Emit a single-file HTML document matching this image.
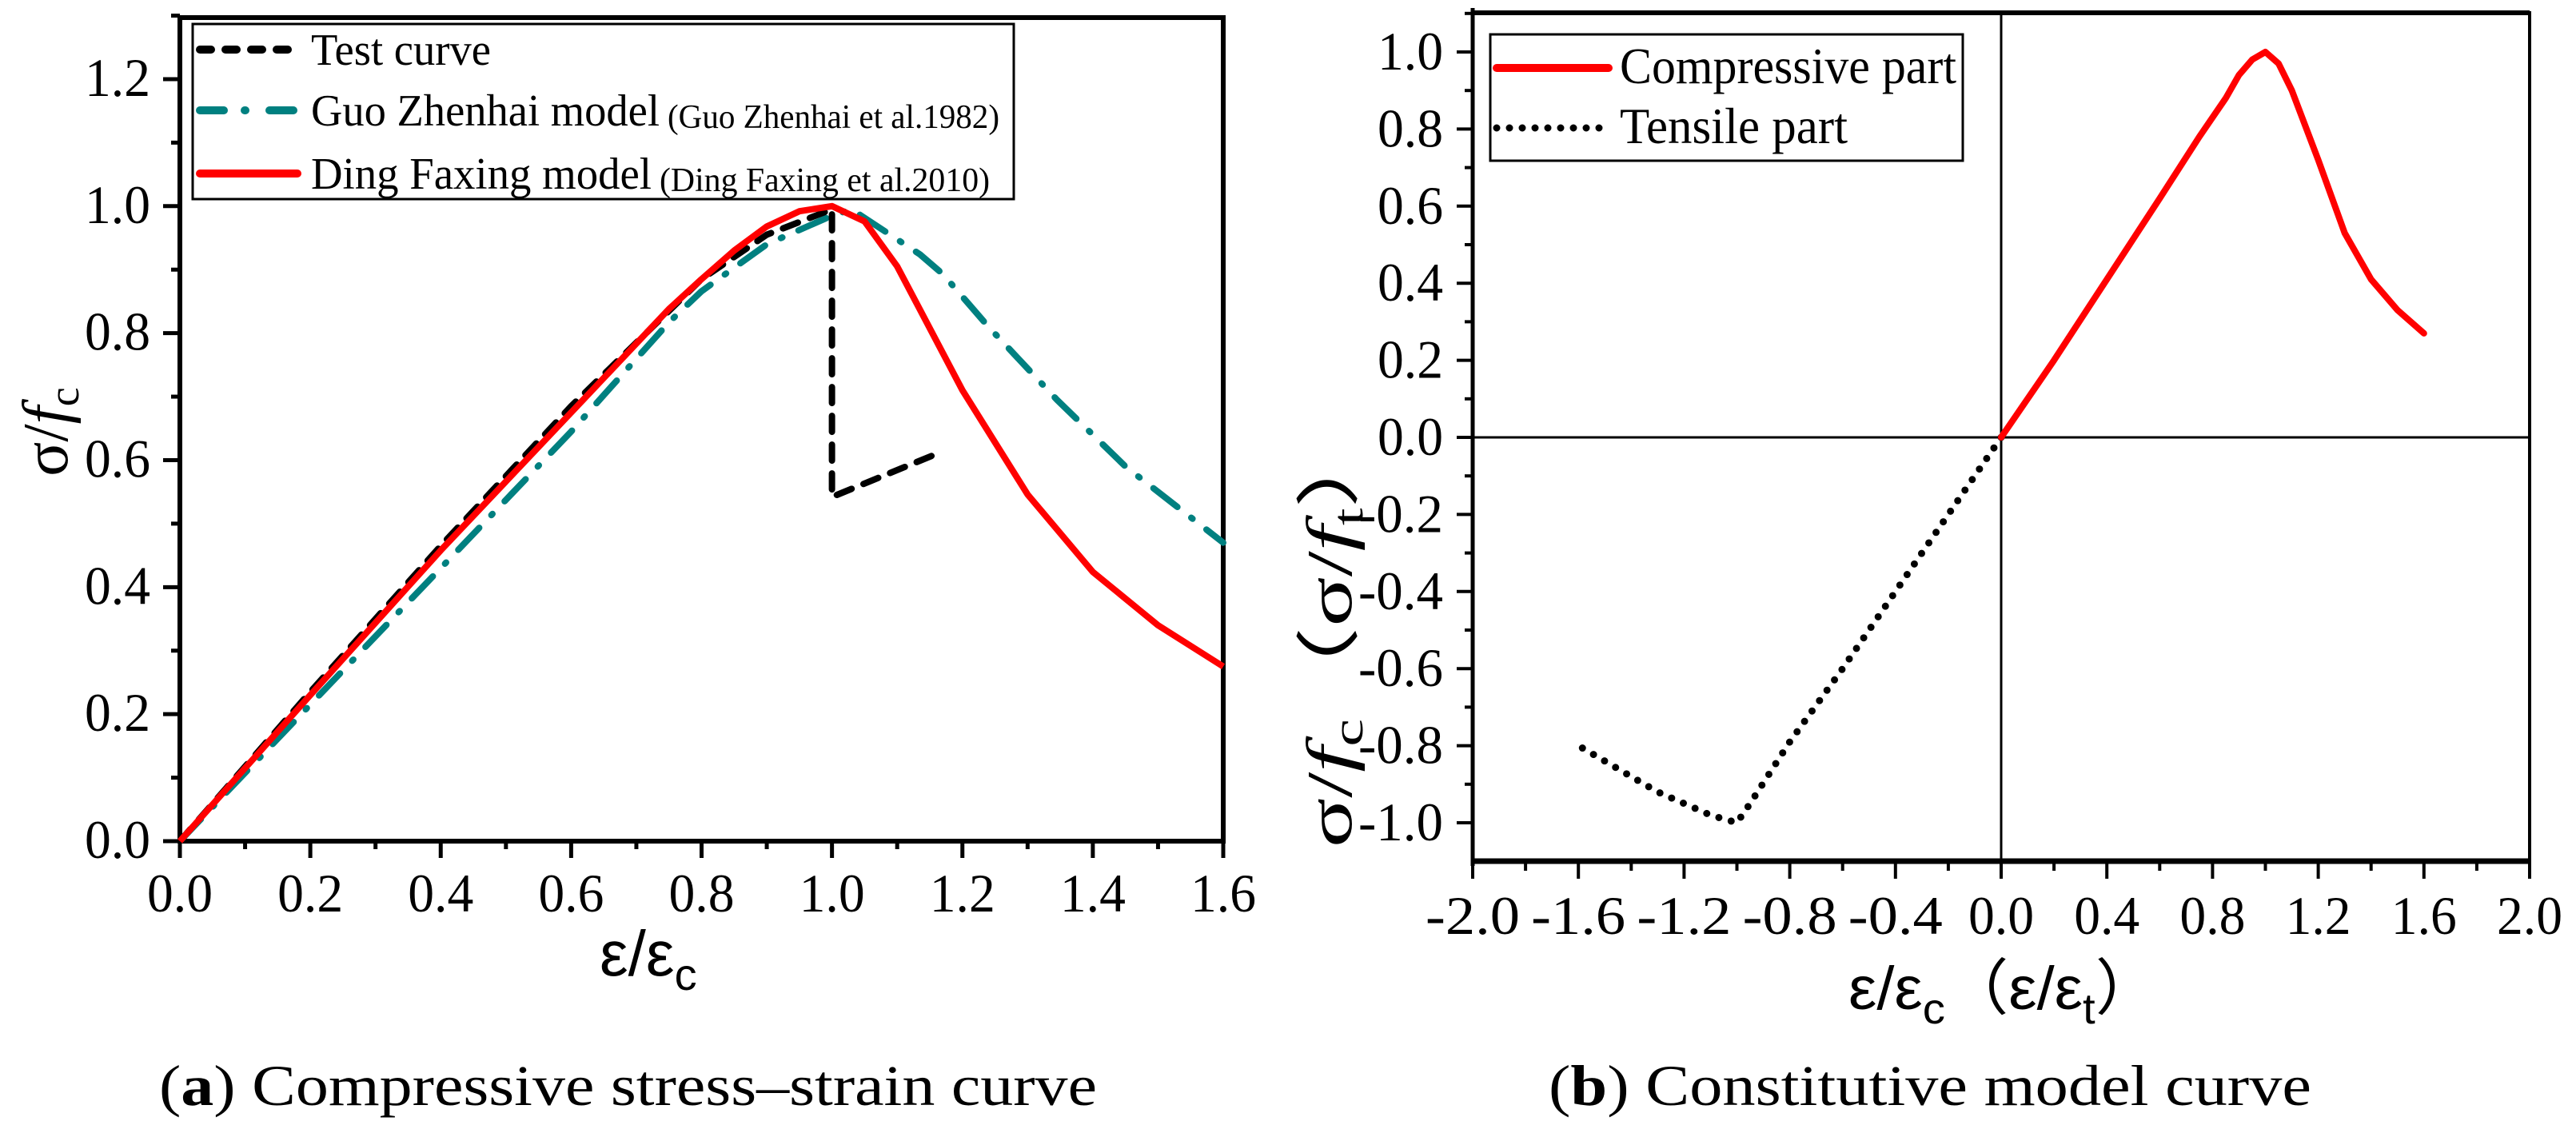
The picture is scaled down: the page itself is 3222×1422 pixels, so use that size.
<!DOCTYPE html>
<html><head><meta charset="utf-8">
<style>html,body{margin:0;padding:0;background:#fff;}svg{display:block;}
text{font-family:"Liberation Serif","Times New Roman",serif;fill:#000;}</style></head>
<body>
<svg id="fig" width="3222" height="1422" viewBox="0 0 3222 1422" xmlns="http://www.w3.org/2000/svg">
<rect width="3222" height="1422" fill="#fff"/>
<g id="pa"></g>
<g id="pb"></g>
<text x="199" y="1382" font-size="72" textLength="1173" lengthAdjust="spacingAndGlyphs">(<tspan font-weight="bold">a</tspan>) Compressive stress–strain curve</text>
<text x="1937" y="1382" font-size="72" textLength="954" lengthAdjust="spacingAndGlyphs">(<tspan font-weight="bold">b</tspan>) Constitutive model curve</text>
</svg>
<script>
// ---- chart (a) data ----
const aXTicks = [0,0.2,0.4,0.6,0.8,1.0,1.2,1.4,1.6];
const aYTicks = [0,0.2,0.4,0.6,0.8,1.0,1.2];
const testX = [0,0.2,0.4,0.6,0.8,0.9,1.0,1.0,1.17];
const testY = [0,0.235,0.465,0.685,0.885,0.955,0.995,0.542,0.614];
const guoX = [0,0.2,0.4,0.6,0.75,0.8,0.9,1.0,1.03,1.135,1.17,1.24,1.345,1.45,1.575,1.6];
const guoY = [0,0.215,0.43,0.645,0.817,0.866,0.94,0.985,0.995,0.924,0.893,0.81,0.695,0.59,0.49,0.47];
const dingX = [0,0.2,0.4,0.6,0.75,0.8,0.85,0.9,0.95,1.0,1.05,1.1,1.2,1.3,1.4,1.5,1.6];
const dingY = [0,0.23,0.458,0.675,0.838,0.885,0.93,0.968,0.992,1.0,0.976,0.905,0.71,0.546,0.424,0.34,0.275];
// ---- chart (b) data ----
const bXTicks = [-2.0,-1.6,-1.2,-0.8,-0.4,0.0,0.4,0.8,1.2,1.6,2.0];
const bYTicks = [-1.0,-0.8,-0.6,-0.4,-0.2,0.0,0.2,0.4,0.6,0.8,1.0];
const compX = [0,0.2,0.4,0.6,0.75,0.8,0.85,0.9,0.95,1.0,1.05,1.1,1.2,1.3,1.4,1.5,1.6];
const compY = [0,0.2,0.41,0.62,0.78,0.83,0.88,0.94,0.98,1.0,0.97,0.9,0.72,0.53,0.41,0.33,0.27];
const tensX = [0,-0.2,-0.4,-0.6,-0.8,-0.95,-1.0,-1.1,-1.2,-1.3,-1.4,-1.5,-1.6];
const tensY = [0,-0.2,-0.4,-0.6,-0.79,-0.95,-1.0,-0.98,-0.95,-0.92,-0.88,-0.84,-0.8];

const NS="http://www.w3.org/2000/svg";
function mk(parent,tag,attrs){const e=document.createElementNS(NS,tag);for(const k in attrs)e.setAttribute(k,attrs[k]);parent.appendChild(e);return e;}
function fmt(v){return (v<0?"-":"")+Math.abs(v).toFixed(1);}
function tw(s){return s.length>3?106:82;}

// chart a
const pa=document.getElementById('pa');
const ax=v=>225+v*(1530-225)/1.6, ay=v=>1052-v*794.2;
function line(g,xs,ys,sx,sy,attrs,name){
  const d=xs.map((x,i)=>(i?'L':'M')+sx(x).toFixed(1)+' '+sy(ys[i]).toFixed(1)).join(' ');
  const p=mk(g,'path',Object.assign({d:d,fill:'none','stroke-linejoin':'round'},attrs));
  
  
  return p;
}
let fr=mk(pa,'path',{d:'M225 22 L225 1052 L1530 1052 L1530 22 Z',fill:'none',stroke:'#000','stroke-width':6});


aXTicks.forEach((v,i)=>{
  const x=ax(v);
  const t=mk(pa,'line',{x1:x,y1:1052,x2:x,y2:1073,stroke:'#000','stroke-width':5});
  
  
  if(i<aXTicks.length-1){const xm=ax(v+0.1);const m=mk(pa,'line',{x1:xm,y1:1052,x2:xm,y2:1062,stroke:'#000','stroke-width':5});
    
    }
  const s=fmt(v);
  const l=mk(pa,'text',{x:x-tw(s)/2,y:1140,'font-size':68,textLength:tw(s),lengthAdjust:'spacingAndGlyphs'});l.textContent=s;
  
  
});
aYTicks.forEach((v,i)=>{
  const y=ay(v);
  const t=mk(pa,'line',{x1:204,y1:y,x2:225,y2:y,stroke:'#000','stroke-width':5});
  
  
  const ym=ay(v+0.1);const m=mk(pa,'line',{x1:214,y1:ym,x2:225,y2:ym,stroke:'#000','stroke-width':5});
  
  
  const s=fmt(v);
  const l=mk(pa,'text',{x:188-tw(s),y:y+21,'font-size':68,textLength:tw(s),lengthAdjust:'spacingAndGlyphs'});l.textContent=s;
  
  
});
line(pa,guoX,guoY,ax,ay,{stroke:'#008080','stroke-width':8,'stroke-dasharray':'38 22 2 22','stroke-linecap':'round'},'guo-zhenhai-series');
line(pa,testX,testY,ax,ay,{stroke:'#000','stroke-width':8,'stroke-dasharray':'20 16','stroke-linecap':'round'},'test-curve-series');
line(pa,dingX,dingY,ax,ay,{stroke:'#ff0000','stroke-width':8},'ding-faxing-series');
const lga=mk(pa,'g',{});


mk(lga,'rect',{x:241,y:30,width:1027,height:219,fill:'#fff',stroke:'#000','stroke-width':3});
const legA=[{y:62,st:{stroke:'#000','stroke-dasharray':'14 18','stroke-linecap':'round'},t:'Test curve',tl:225,s:null,n:'legend-test-curve'},
 {y:138,st:{stroke:'#008080','stroke-dasharray':'30 26 1 30','stroke-linecap':'round'},t:'Guo Zhenhai model',tl:436,s:'(Guo Zhenhai et al.1982)',sx:835,sl:415,n:'legend-guo-zhenhai'},
 {y:217,st:{stroke:'#ff0000','stroke-linecap':'round'},t:'Ding Faxing model',tl:426,s:'(Ding Faxing et al.2010)',sx:825,sl:413,n:'legend-ding-faxing'}];
legA.forEach(e=>{
  const g=mk(lga,'g',{});
  
  
  mk(g,'line',Object.assign({x1:250,y1:e.y,x2:372,y2:e.y,'stroke-width':10},e.st));
  const t=mk(g,'text',{x:389,y:e.y+19,'font-size':56,textLength:e.tl,lengthAdjust:'spacingAndGlyphs'});t.textContent=e.t;
  if(e.s){const s=mk(g,'text',{x:e.sx,y:e.y+22,'font-size':42,textLength:e.sl,lengthAdjust:'spacingAndGlyphs'});s.textContent=e.s;}
});
let yt=mk(pa,'text',{transform:'translate(84,540) rotate(-90)','font-size':80,'text-anchor':'middle'});
yt.innerHTML='σ/<tspan font-style="italic">f</tspan><tspan font-size="54" dy="14">c</tspan>';


let xt=mk(pa,'text',{x:750,y:1220,'font-size':80,style:'font-family:"Liberation Sans",sans-serif'});
xt.innerHTML='ε/ε<tspan font-size="56" dy="18">c</tspan>';



// chart b
const pb=document.getElementById('pb');
const bx=v=>2503+v*330.5, by=v=>547-v*482;
let frb=mk(pb,'path',{d:'M1842 16 L3164 16 L3164 1077 L1842 1077 Z',fill:'none',stroke:'#000','stroke-width':4});


mk(pb,'line',{x1:1842,y1:16,x2:3164,y2:16,stroke:'#000','stroke-width':6});
mk(pb,'line',{x1:1842,y1:1077,x2:3164,y2:1077,stroke:'#000','stroke-width':7});
mk(pb,'line',{x1:1842,y1:10,x2:1842,y2:1083,stroke:'#000','stroke-width':5});
let z1=mk(pb,'line',{x1:1842,y1:by(0),x2:3164,y2:by(0),stroke:'#000','stroke-width':3});


let z2=mk(pb,'line',{x1:bx(0),y1:16,x2:bx(0),y2:1077,stroke:'#000','stroke-width':3});


bXTicks.forEach((v,i)=>{
  const x=bx(v);
  const t=mk(pb,'line',{x1:x,y1:1077,x2:x,y2:1099,stroke:'#000','stroke-width':4});
  
  
  if(i<bXTicks.length-1){const xm=bx(v+0.2);const m=mk(pb,'line',{x1:xm,y1:1077,x2:xm,y2:1089,stroke:'#000','stroke-width':4});
    
    }
  const s=fmt(v);
  const w=s.length>3?118:82;
  const l=mk(pb,'text',{x:x-w/2,y:1168,'font-size':68,textLength:w,lengthAdjust:'spacingAndGlyphs'});l.textContent=s;
  
  
});
bYTicks.forEach((v,i)=>{
  const y=by(v);
  const t=mk(pb,'line',{x1:1822,y1:y,x2:1842,y2:y,stroke:'#000','stroke-width':4});
  
  
  const ym=by(v+0.1);const m=mk(pb,'line',{x1:1832,y1:ym,x2:1842,y2:ym,stroke:'#000','stroke-width':4});
  
  
  const s=fmt(v);
  const l=mk(pb,'text',{x:1805-tw(s),y:y+22,'font-size':68,textLength:tw(s),lengthAdjust:'spacingAndGlyphs'});l.textContent=s;
  
  
});
line(pb,tensX,tensY,bx,by,{stroke:'#000','stroke-width':9,'stroke-dasharray':'0 16','stroke-linecap':'round'},'tensile-series');
line(pb,compX,compY,bx,by,{stroke:'#ff0000','stroke-width':8,'stroke-linecap':'round'},'compressive-series');
const lgb=mk(pb,'g',{});


mk(lgb,'rect',{x:1864,y:43,width:591,height:158,fill:'#fff',stroke:'#000','stroke-width':3});
mk(lgb,'line',{x1:1872,y1:85,x2:2012,y2:85,stroke:'#ff0000','stroke-width':10,'stroke-linecap':'round'});
let t1=mk(lgb,'text',{x:2026,y:104,'font-size':64,textLength:421,lengthAdjust:'spacingAndGlyphs'});t1.textContent='Compressive part';


mk(lgb,'line',{x1:1872,y1:160,x2:2012,y2:160,stroke:'#000','stroke-width':9,'stroke-dasharray':'0 16','stroke-linecap':'round'});
let t2=mk(lgb,'text',{x:2026,y:179,'font-size':64,textLength:285,lengthAdjust:'spacingAndGlyphs'});t2.textContent='Tensile part';


let ytb=mk(pb,'text',{transform:'translate(1690,1060) rotate(-90)','font-size':80,textLength:540,lengthAdjust:'spacingAndGlyphs'});
ytb.innerHTML='σ/<tspan font-style="italic">f</tspan><tspan font-size="54" dy="14">c</tspan><tspan dy="-14">（σ/</tspan><tspan font-style="italic">f</tspan><tspan font-size="54" dy="14">t</tspan><tspan dy="-14">）</tspan>';


let xtb=mk(pb,'text',{x:2312,y:1262,'font-size':76,textLength:388,lengthAdjust:'spacingAndGlyphs',style:'font-family:"Liberation Sans","Noto Sans CJK SC",sans-serif'});
xtb.innerHTML='ε/ε<tspan font-size="54" dy="18">c</tspan><tspan dy="-18">（ε/ε</tspan><tspan font-size="54" dy="18">t</tspan><tspan dy="-18">）</tspan>';


</script>
</body></html>
